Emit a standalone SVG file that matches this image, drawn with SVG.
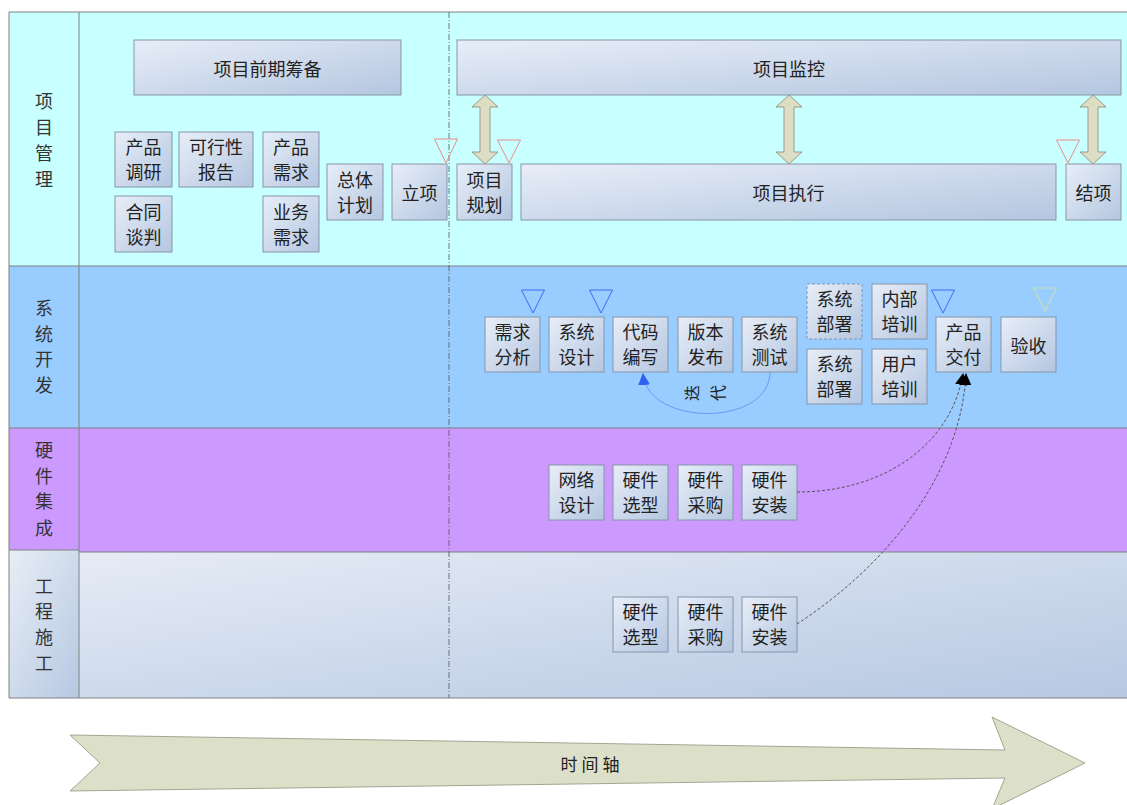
<svg xmlns="http://www.w3.org/2000/svg" width="1127" height="805" viewBox="0 0 1127 805">
<defs>
<linearGradient id="boxg" x1="0" y1="0" x2="1" y2="1">
<stop offset="0" stop-color="#E8EEF8"/>
<stop offset="1" stop-color="#B4C6E0"/>
</linearGradient>
<linearGradient id="laneg" x1="0" y1="0" x2="1" y2="1">
<stop offset="0" stop-color="#E6ECF6"/>
<stop offset="1" stop-color="#B6C8E2"/>
</linearGradient>
<linearGradient id="labg" x1="0" y1="0" x2="1" y2="1">
<stop offset="0" stop-color="#E8EEF6"/>
<stop offset="1" stop-color="#B6C8E2"/>
</linearGradient>
<marker id="blk" viewBox="0 0 12 12" refX="11" refY="6" markerWidth="12" markerHeight="12" markerUnits="userSpaceOnUse" orient="auto">
<path d="M0,0 L12,6 L0,12 Z" fill="#000"/>
</marker>
<marker id="blu" viewBox="0 0 12 12" refX="11" refY="6" markerWidth="12" markerHeight="12" markerUnits="userSpaceOnUse" orient="auto">
<path d="M0,0 L12,6 L0,12 Z" fill="#2F62F0"/>
</marker>
<path id="dbl" d="M0,0 L13,12 L5,12 L5,57 L13,57 L0,69 L-13,57 L-5,57 L-5,12 L-13,12 Z"/>
</defs>
<style>
.box{fill:url(#boxg);stroke:#8595A8;stroke-width:1}
.dash{stroke-dasharray:3,2}
.t{font-family:"Noto Sans CJK SC","Noto Sans",sans-serif;font-size:18px;fill:#222;text-anchor:middle;dominant-baseline:central}
.lab{font-family:"Noto Sans CJK SC","Noto Sans",sans-serif;font-size:18px;fill:#333;text-anchor:middle;dominant-baseline:central}
.lane{stroke:#808080;stroke-width:1}
.dblar{fill:#DCDDC4;stroke:#9A9A88;stroke-width:1}
.tri-r{fill:none;stroke:#F08A8A;stroke-width:1}
.tri-b{fill:none;stroke:#3A6CF6;stroke-width:1}
.tri-g{fill:none;stroke:#C8DEB4;stroke-width:1.2}
.conn{fill:none;stroke:#555;stroke-width:1;stroke-dasharray:3,2}
</style>

<g id="lanes">
<rect x="9" y="12" width="1118" height="254" fill="#C8FFFF"/>
<rect x="9" y="266" width="1118" height="162" fill="#99CCFF"/>
<rect x="9" y="428" width="1118" height="124" fill="#CC99FF"/>
<rect x="79" y="552" width="1048" height="146" fill="url(#laneg)"/>
<rect x="9" y="550" width="70" height="148" fill="url(#labg)"/>
<line class="lane" x1="9" y1="12" x2="1127" y2="12"/>
<line class="lane" x1="9" y1="266" x2="1127" y2="266"/>
<line class="lane" x1="9" y1="428" x2="1127" y2="428"/>
<line class="lane" x1="79" y1="552" x2="1127" y2="552"/>
<line class="lane" x1="9" y1="550" x2="79" y2="550"/>
<line class="lane" x1="9" y1="698" x2="1127" y2="698"/>
<line class="lane" x1="9" y1="12" x2="9" y2="698"/>
<line class="lane" x1="79" y1="12" x2="79" y2="698"/>
<line x1="449" y1="12" x2="449" y2="698" stroke="#555" stroke-width="0.8" stroke-dasharray="6,2,1,2"/>
<text class="lab" x="44" y="100">项</text><text class="lab" x="44" y="126">目</text><text class="lab" x="44" y="152">管</text><text class="lab" x="44" y="178">理</text>
<text class="lab" x="44" y="307">系</text><text class="lab" x="44" y="333">统</text><text class="lab" x="44" y="358">开</text><text class="lab" x="44" y="384">发</text>
<text class="lab" x="44" y="449">硬</text><text class="lab" x="44" y="475">件</text><text class="lab" x="44" y="500">集</text><text class="lab" x="44" y="527">成</text>
<text class="lab" x="44" y="585">工</text><text class="lab" x="44" y="610">程</text><text class="lab" x="44" y="636">施</text><text class="lab" x="44" y="662">工</text>
</g>

<g id="n-qqcb"><rect class="box" x="134" y="40" width="267" height="55"/><text class="t" x="267.5" y="67.5">项目前期筹备</text></g>
<g id="n-xmjk"><rect class="box" x="457" y="40" width="664" height="55"/><text class="t" x="789" y="67.5">项目监控</text></g>
<g id="n-cpdy"><rect class="box" x="115" y="132" width="57" height="55"/><text class="t" x="143.5" y="146">产品</text><text class="t" x="143.5" y="171">调研</text></g>
<g id="n-kxx"><rect class="box" x="179" y="132" width="74" height="55"/><text class="t" x="216" y="146">可行性</text><text class="t" x="216" y="171">报告</text></g>
<g id="n-cpxq"><rect class="box" x="263" y="132" width="56" height="55"/><text class="t" x="291" y="146">产品</text><text class="t" x="291" y="171">需求</text></g>
<g id="n-htdp"><rect class="box" x="115" y="196" width="57" height="56"/><text class="t" x="143.5" y="211">合同</text><text class="t" x="143.5" y="236">谈判</text></g>
<g id="n-ywxq"><rect class="box" x="263" y="196" width="56" height="56"/><text class="t" x="291" y="211">业务</text><text class="t" x="291" y="236">需求</text></g>
<g id="n-ztjh"><rect class="box" x="327" y="164" width="56" height="56"/><text class="t" x="355" y="179">总体</text><text class="t" x="355" y="204">计划</text></g>
<g id="n-lx"><rect class="box" x="392" y="164" width="55" height="56"/><text class="t" x="419.5" y="192">立项</text></g>
<g id="n-xmgh"><rect class="box" x="457" y="164" width="55" height="56"/><text class="t" x="484.5" y="179">项目</text><text class="t" x="484.5" y="204">规划</text></g>
<g id="n-xmzx"><rect class="box" x="521" y="164" width="535" height="56"/><text class="t" x="788.5" y="192">项目执行</text></g>
<g id="n-jx"><rect class="box" x="1066" y="164" width="55" height="56"/><text class="t" x="1093.5" y="192">结项</text></g>

<g id="n-xqfx"><rect class="box" x="485" y="317" width="55" height="55"/><text class="t" x="512.5" y="331">需求</text><text class="t" x="512.5" y="356">分析</text></g>
<g id="n-xtsj"><rect class="box" x="549" y="317" width="55" height="55"/><text class="t" x="576.5" y="331">系统</text><text class="t" x="576.5" y="356">设计</text></g>
<g id="n-dmbx"><rect class="box" x="613" y="317" width="55" height="55"/><text class="t" x="640.5" y="331">代码</text><text class="t" x="640.5" y="356">编写</text></g>
<g id="n-bbfb"><rect class="box" x="678" y="317" width="55" height="55"/><text class="t" x="705.5" y="331">版本</text><text class="t" x="705.5" y="356">发布</text></g>
<g id="n-xtcs"><rect class="box" x="742" y="317" width="55" height="55"/><text class="t" x="769.5" y="331">系统</text><text class="t" x="769.5" y="356">测试</text></g>
<g id="n-xtbs1"><rect class="box dash" x="807" y="284" width="55" height="55"/><text class="t" x="834.5" y="298">系统</text><text class="t" x="834.5" y="323">部署</text></g>
<g id="n-nbpx"><rect class="box" x="872" y="284" width="55" height="55"/><text class="t" x="899.5" y="298">内部</text><text class="t" x="899.5" y="323">培训</text></g>
<g id="n-xtbs2"><rect class="box" x="807" y="349" width="55" height="55"/><text class="t" x="834.5" y="363">系统</text><text class="t" x="834.5" y="388">部署</text></g>
<g id="n-yhpx"><rect class="box" x="872" y="349" width="55" height="55"/><text class="t" x="899.5" y="363">用户</text><text class="t" x="899.5" y="388">培训</text></g>
<g id="n-cpjf"><rect class="box" x="936" y="317" width="55" height="55"/><text class="t" x="963.5" y="331">产品</text><text class="t" x="963.5" y="356">交付</text></g>
<g id="n-ys"><rect class="box" x="1001" y="317" width="55" height="55"/><text class="t" x="1028.5" y="344.5">验收</text></g>

<g id="n-wlsj"><rect class="box" x="549" y="465" width="55" height="55"/><text class="t" x="576.5" y="479">网络</text><text class="t" x="576.5" y="504">设计</text></g>
<g id="n-yjxx1"><rect class="box" x="613" y="465" width="55" height="55"/><text class="t" x="640.5" y="479">硬件</text><text class="t" x="640.5" y="504">选型</text></g>
<g id="n-yjcg1"><rect class="box" x="678" y="465" width="55" height="55"/><text class="t" x="705.5" y="479">硬件</text><text class="t" x="705.5" y="504">采购</text></g>
<g id="n-yjaz1"><rect class="box" x="742" y="465" width="55" height="55"/><text class="t" x="769.5" y="479">硬件</text><text class="t" x="769.5" y="504">安装</text></g>

<g id="n-yjxx2"><rect class="box" x="613" y="597" width="55" height="55"/><text class="t" x="640.5" y="611">硬件</text><text class="t" x="640.5" y="636">选型</text></g>
<g id="n-yjcg2"><rect class="box" x="678" y="597" width="55" height="55"/><text class="t" x="705.5" y="611">硬件</text><text class="t" x="705.5" y="636">采购</text></g>
<g id="n-yjaz2"><rect class="box" x="742" y="597" width="55" height="55"/><text class="t" x="769.5" y="611">硬件</text><text class="t" x="769.5" y="636">安装</text></g>

<g id="milestones">
<polygon class="tri-r" points="434.5,139 457.5,139 446,163"/>
<polygon class="tri-r" points="497.5,140 520.5,140 509,163"/>
<polygon class="tri-r" points="1056.5,140 1079.5,140 1068,163"/>
<polygon class="tri-b" points="521.5,290 544.5,290 533,313"/>
<polygon class="tri-b" points="589.5,290 612.5,290 601,313"/>
<polygon class="tri-b" points="931.5,290 954.5,290 943,313"/>
<polygon class="tri-g" points="1033.5,288 1056.5,288 1045,311"/>
</g>

<g id="connectors">
<use href="#dbl" class="dblar" x="485" y="95"/>
<use href="#dbl" class="dblar" x="789" y="95"/>
<use href="#dbl" class="dblar" x="1093" y="95"/>
<path d="M770,372 C770,427 648,427 643,374" fill="none" stroke="#6E96F4" stroke-width="1" marker-end="url(#blu)"/>
<text class="t" font-size="16" x="691" y="393" transform="rotate(-90 691 393)" style="font-size:16px">迭</text>
<text class="t" x="717" y="393" transform="rotate(-90 717 393)" style="font-size:16px">代</text>
<path class="conn" d="M797,492 C880,492 950,448 963,374" marker-end="url(#blk)"/>
<path class="conn" d="M797,624 C880,570 960,480 966,374" marker-end="url(#blk)"/>
</g>

<g id="timeline">
<polygon points="70,735 1005,750 992,717 1085,763 992,809 1005,778 70,791 100,763" fill="#DDE0C9" stroke="#A3A592" stroke-width="1"/>
<text class="t" x="592" y="763" style="font-size:17px;letter-spacing:4px">时间轴</text>
</g>
</svg>
